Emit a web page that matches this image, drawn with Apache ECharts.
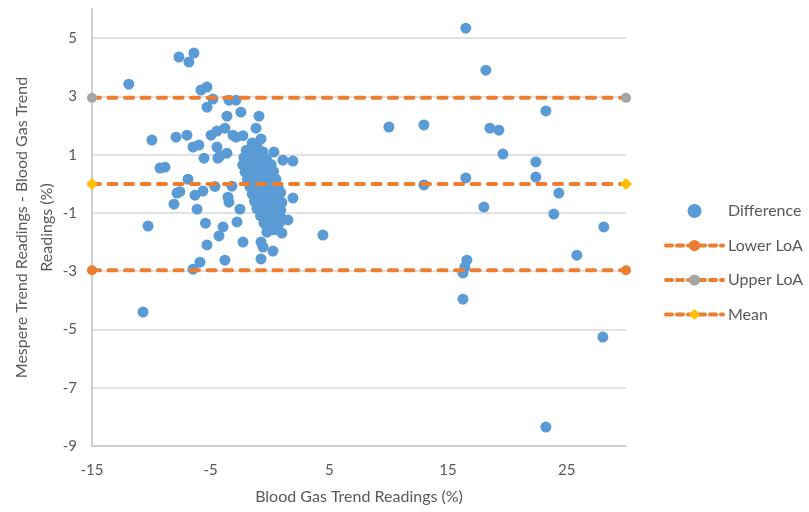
<!DOCTYPE html>
<html>
<head>
<meta charset="utf-8">
<script src="https://cdn.jsdelivr.net/npm/echarts@6/dist/echarts.min.js"></script>
<style>html,body{margin:0;padding:0;background:#fff}#c{width:809px;height:512px}</style>
</head>
<body>
<div id="c"></div>
<script>
// Axis settings
var xMin = -15, xMax = 30, xStep = 10;
var yMin = -9, yMax = 6, yStep = 2;

// Limits of agreement
var lowerLoA = -2.97;
var upperLoA = 2.95;
var meanDiff = -0.01;

// Difference points: [Blood Gas Trend Reading, Mespere - Blood Gas]
var diffScattered = [
  [-11.9, 3.42], [-7.67, 4.35], [-6.41, 4.49], [-6.83, 4.18], [-5.82, 3.22], [-5.31, 3.32],
  [-4.81, 2.91], [-5.31, 2.63], [-3.46, 2.87], [-2.87, 2.87], [-3.63, 2.32], [-2.45, 2.46],
  [-0.93, 2.32], [-1.18, 1.91], [-9.95, 1.5], [-7.92, 1.6], [-7.0, 1.67], [-6.49, 1.26],
  [-5.99, 1.33], [-5.56, 0.88], [-4.97, 1.67], [-4.47, 1.81], [-4.47, 1.26], [-4.39, 0.88],
  [-3.8, 1.91], [-4.22, 0.95], [-3.63, 1.05], [-3.12, 1.67], [-2.28, 1.65], [-2.87, 1.6],
  [-0.76, 1.54], [0.33, 1.09], [1.09, 0.81], [1.93, 0.78], [-9.27, 0.54], [-8.85, 0.57],
  [-6.91, 0.16], [-4.64, -0.09], [-3.21, -0.08], [-7.84, -0.32], [-7.6, -0.27], [-8.09, -0.7],
  [-6.32, -0.39], [-5.65, -0.25], [-6.15, -0.87], [-3.54, -0.46], [-3.46, -0.63], [-2.53, -0.87],
  [-10.28, -1.45], [-5.44, -1.35], [-3.96, -1.48], [-4.3, -1.79], [-2.78, -1.31], [-2.28, -2.0],
  [-5.31, -2.1], [-5.9, -2.69], [-6.49, -2.93], [-3.8, -2.62], [-0.76, -2.0], [-0.59, -2.17],
  [0.25, -2.31], [-0.76, -2.58], [-0.26, -1.66], [1.0, -1.69], [1.93, -0.49], [1.51, -1.24],
  [-10.7, -4.4]
];
var diffCluster = [
  [-1.5, 1.4], [-1.1, 1.35],
  [-2.0, 1.15], [-1.5, 1.12], [-1.0, 1.18], [-0.6, 1.1],
  [-2.2, 0.9], [-1.7, 0.92], [-1.2, 0.88], [-0.7, 0.9], [-0.3, 0.85],
  [-2.3, 0.65], [-1.8, 0.62], [-1.3, 0.68], [-0.8, 0.63], [-0.3, 0.6], [0.1, 0.66],
  [-2.1, 0.4], [-1.6, 0.42], [-1.1, 0.38], [-0.6, 0.41], [-0.1, 0.37], [0.3, 0.43],
  [-1.9, 0.15], [-1.4, 0.12], [-0.9, 0.18], [-0.4, 0.14], [0.1, 0.1], [0.5, 0.16],
  [-1.7, -0.1], [-1.2, -0.08], [-0.7, -0.12], [-0.2, -0.06], [0.3, -0.1], [0.7, -0.14],
  [-1.5, -0.35], [-1.0, -0.33], [-0.5, -0.38], [0.0, -0.34], [0.5, -0.36], [0.9, -0.3],
  [-1.3, -0.6], [-0.8, -0.58], [-0.3, -0.62], [0.2, -0.6], [0.7, -0.56], [1.0, -0.64],
  [-1.1, -0.85], [-0.6, -0.88], [-0.1, -0.83], [0.4, -0.86], [0.9, -0.9],
  [-0.8, -1.1], [-0.3, -1.08], [0.2, -1.12], [0.6, -1.1], [0.9, -1.15],
  [-0.5, -1.35], [0.0, -1.32], [0.4, -1.38], [0.8, -1.34],
  [-0.2, -1.55], [0.3, -1.58]
];
var diffRight = [
  [16.5, 5.34], [18.19, 3.9], [23.25, 2.5], [10.02, 1.95], [12.97, 2.02], [18.53, 1.91],
  [19.29, 1.84], [19.63, 1.02], [22.4, 0.75], [22.4, 0.23], [16.5, 0.2], [12.97, -0.04],
  [24.34, -0.32], [18.02, -0.8], [23.92, -1.04], [28.13, -1.48], [4.46, -1.76], [25.86, -2.45],
  [16.59, -2.62], [16.42, -2.86], [16.26, -3.06], [16.26, -3.96], [28.05, -5.26], [23.25, -8.35]
];

var seriesNames = ['Difference', 'Lower LoA', 'Upper LoA', 'Mean'];
var xTitle = 'Blood Gas Trend Readings (%)';
var yTitle = 'Mespere Trend Readings - Blood Gas Trend\nReadings (%)';

var FONT = 'Lato';
var TXT = '#595959';
var ORANGE = '#ED7D31';

function loaLine(name, value, markerColor, symbol, size) {
  return {
    name: name, type: 'line', z: 4,
    data: [[xMin, value], [xMax, value]],
    symbol: symbol, symbolSize: size, showSymbol: true,
    itemStyle: { color: markerColor },
    lineStyle: { color: ORANGE, width: 4, type: [8, 8.5], cap: 'round' },
    silent: true
  };
}

var chart = echarts.init(document.getElementById('c'), null, { renderer: 'canvas' });
chart.setOption({
  animation: false,
  backgroundColor: '#ffffff',
  textStyle: { fontFamily: FONT },
  grid: { left: 92, right: 183, top: 9, bottom: 66, containLabel: false, outerBoundsMode: 'none' },
  legend: {
    orient: 'vertical', left: 659, top: 198,
    itemWidth: 57, itemHeight: 14, itemGap: 18.5,
    lineStyle: { width: 4, type: [6, 5], cap: 'round' },
    textStyle: { fontFamily: FONT, fontSize: 16, color: TXT },
    data: seriesNames
  },
  xAxis: {
    type: 'value', min: xMin, max: xMax, interval: xStep,
    name: xTitle, nameLocation: 'middle', nameGap: 43, nameMoveOverlap: false,
    nameTextStyle: { fontFamily: FONT, fontSize: 16, color: TXT },
    axisLine: { onZero: false, lineStyle: { color: '#BFBFBF', width: 1.5 } },
    axisTick: { show: false },
    axisLabel: { showMaxLabel: false, fontFamily: FONT, fontSize: 15, color: TXT, margin: 17 },
    splitLine: { show: false }
  },
  yAxis: {
    type: 'value', min: yMin, max: yMax, interval: yStep,
    name: yTitle, nameLocation: 'middle', nameGap: 33, nameRotate: 90, nameMoveOverlap: false,
    nameTextStyle: { fontFamily: FONT, fontSize: 16, color: TXT, lineHeight: 25 },
    axisLine: { onZero: false, show: true, lineStyle: { color: '#BFBFBF', width: 1.5 } },
    axisTick: { show: false },
    axisLabel: { showMaxLabel: false, fontFamily: FONT, fontSize: 15, color: TXT, margin: 15 },
    splitLine: { show: true, showMaxLine: false, showMinLine: false, lineStyle: { color: '#D9D9D9', width: 1.5 } }
  },
  series: [
    {
      name: 'Difference', type: 'scatter', z: 2,
      data: diffScattered.concat(diffCluster, diffRight),
      symbol: 'circle', symbolSize: 11,
      itemStyle: { color: '#5B9BD5', opacity: 1 }
    },
    loaLine('Lower LoA', lowerLoA, ORANGE, 'circle', 10),
    loaLine('Upper LoA', upperLoA, '#A5A5A5', 'circle', 10),
    loaLine('Mean', meanDiff, '#FFC000', 'diamond', 12)
  ]
});
</script>
</body>
</html>
